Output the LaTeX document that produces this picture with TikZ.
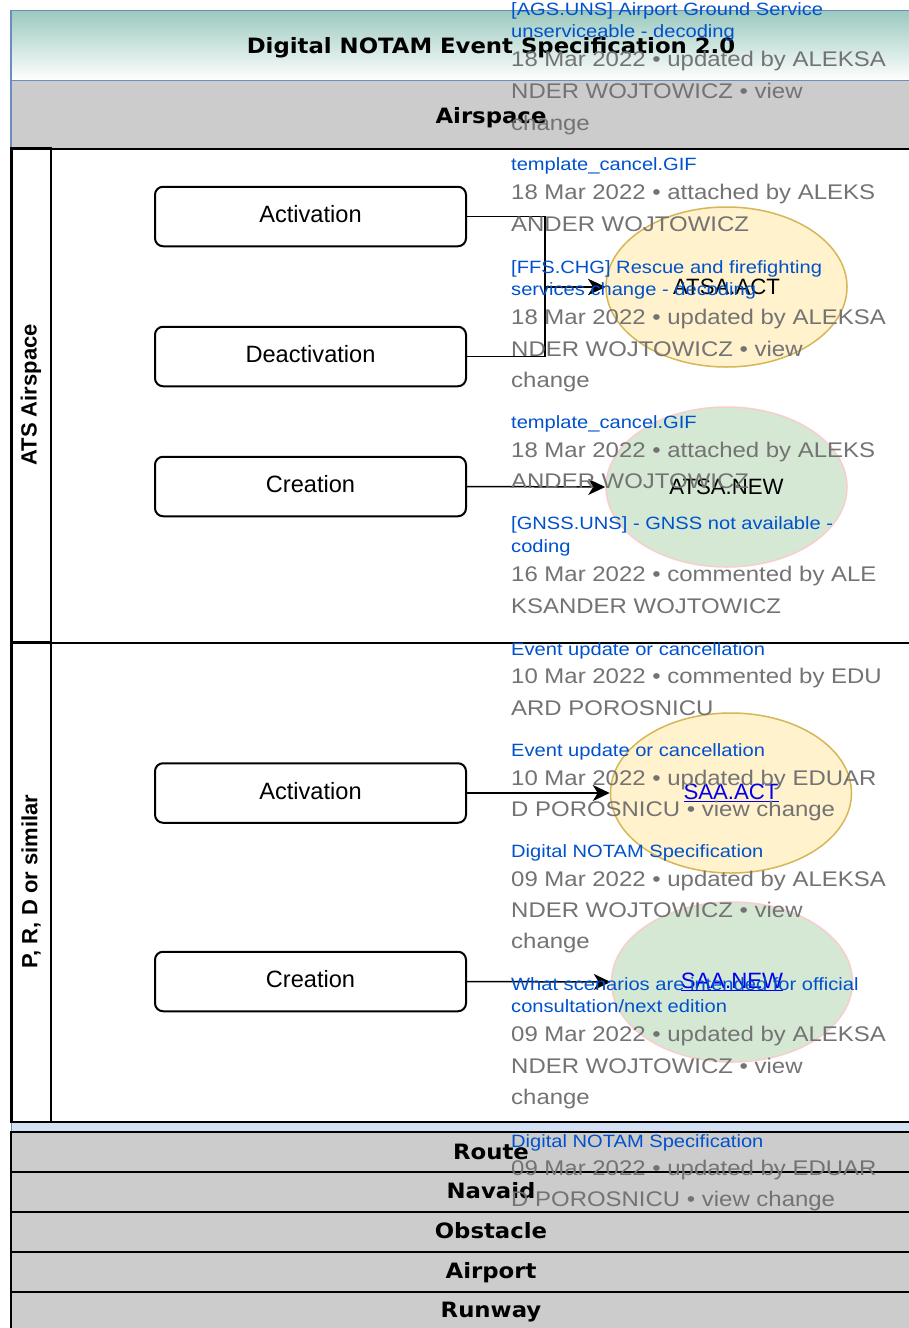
\documentclass[tikz,border=0pt]{standalone}
\usepackage{fontspec}
\usetikzlibrary{shapes.geometric,arrows.meta}
\newfontfamily\ovfont{Liberation Sans}[FakeStretch=1.13]
\newfontfamily\lbfont{Liberation Sans}
\newfontfamily\hdfont{DejaVu Sans}[FakeStretch=1.08]
\definecolor{teal1}{HTML}{9BC9BE}
\definecolor{hdblue}{HTML}{6C8EBF}
\definecolor{barg}{HTML}{CCCCCC}
\definecolor{stripb}{HTML}{D4E1F5}
\definecolor{yelf}{HTML}{FFF2CC}
\definecolor{yeld}{HTML}{D6B656}
\definecolor{grnf}{HTML}{D5E8D4}
\definecolor{redd}{HTML}{F8CECC}
\definecolor{ovblue}{HTML}{0052CC}
\definecolor{ovgray}{HTML}{737373}
\definecolor{lnk}{HTML}{0000EE}
\tikzset{
  hbar/.style={anchor=north west, minimum width=960, inner sep=0, outer sep=0},
  hdtext/.style={font=\hdfont\bfseries\fontsize{21.1}{21}\selectfont, anchor=base, inner sep=0},
  graybar/.style={hbar, fill=barg, draw=black, line width=2, minimum height=40},
  pool/.style={anchor=north west, draw=black, line width=2, minimum width=960, inner sep=0},
  lanehead/.style={draw=black, line width=2, rotate=90, minimum height=40, inner sep=0,
    font=\lbfont\bfseries\fontsize{22}{22}\selectfont},
  procbox/.style={draw=black, line width=2, rounded corners=8, minimum width=311,
    minimum height=59.5, inner sep=0},
  boxtext/.style={anchor=base, inner sep=0, font=\lbfont\fontsize{23.6}{24}\selectfont},
  evell/.style={ellipse, line width=1.5, minimum width=241, minimum height=160, inner sep=0,
    font=\lbfont\fontsize{22.2}{22}\selectfont},
  yell/.style={evell, fill=yelf, draw=yeld},
  gell/.style={evell, fill=grnf, draw=redd},
  arr/.style={draw=black, line width=1.5, -{Stealth[length=17pt,width=16pt,inset=5pt]}},
  ovb/.style={anchor=base west, inner sep=0, text=ovblue, font=\ovfont\fontsize{17.8}{18}\selectfont},
  ovg/.style={anchor=base west, inner sep=0, text=ovgray, font=\ovfont\fontsize{21.2}{22}\selectfont},
}
\begin{document}
\begin{tikzpicture}[x=1pt,y=-1pt]
\useasboundingbox (0,0) rectangle (909,1328);
\fill[white] (0,0) rectangle (909,1328);
\begin{scope}
\clip (0,0) rectangle (909,1328);
% header bars
\node[hbar, minimum height=70, top color=teal1, bottom color=white, draw=hdblue, line width=1.5] (title) at (11,10.5) {};
\node[hbar, minimum height=68, fill=barg, draw=none] (airsp) at (11,80.5) {};
\draw[hdblue, line width=1.5] (airsp.north west) -- (airsp.south west);
\node[hdtext] (titletxt) at (491,53.3) {Digital NOTAM Event Specification 2.0};
\node[hdtext] (airsptxt) at (491,123) {Airspace};
% pools
\node[pool, minimum height=493.5] (pool1) at (11,148) {};
\node[pool, minimum height=480] (pool2) at (11,641.5) {};
\node[lanehead, minimum width=493.5] (lane1) at (31,394.75) {ATS Airspace};
\node[lanehead, minimum width=480] (lane2) at (31,881.5) {P, R, D or similar};
% process boxes
\node[procbox] (a1) at (310.5,216.5) {};
\node[procbox] (d1) at (310.5,356.5) {};
\node[procbox] (c1) at (310.5,486.5) {};
\node[procbox] (a2) at (310.5,793) {};
\node[procbox] (c2) at (310.5,981.5) {};
\node[boxtext] (a1t) at ([yshift=-6.2]a1.center) {Activation};
\node[boxtext] (d1t) at ([yshift=-6.2]d1.center) {Deactivation};
\node[boxtext] (c1t) at ([yshift=-6.2]c1.center) {Creation};
\node[boxtext] (a2t) at ([yshift=-6.2]a2.center) {Activation};
\node[boxtext] (c2t) at ([yshift=-6.2]c2.center) {Creation};
% events
\node[yell] (e1) at (726.5,287) {ATSA.ACT};
\node[gell] (e2) at (726.5,487) {ATSA.NEW};
\node[yell, text=lnk] (e3) at (731,793) {\underline{SAA.ACT}};
\node[gell, text=lnk] (e4) at (732,982) {\underline{SAA.NEW}};
% connectors
\coordinate (j1) at (545,287);
\draw[arr] (a1.east) -| (j1) -- (e1.west);
\draw[arr] (d1.east) -| (j1) -- (e1.west);
\draw[arr] (c1.east) -- (e2.west);
\draw[arr] (a2.east) -- (e3.west);
\draw[arr] (c2.east) -- (e4.west);
% bottom bars
\node[hbar, minimum height=10, fill=stripb, draw=hdblue, line width=1] (strip) at (11,1121.5) {};
\draw[black, line width=2] (strip.north west) -- (strip.north east);
\node[graybar] (route) at (11,1131.5) {};
\node[graybar] (navaid) at (11,1171.5) {};
\node[graybar] (obst) at (11,1211.5) {};
\node[graybar] (airport) at (11,1251.5) {};
\node[graybar] (runway) at (11,1291.5) {};
\node[hdtext] (routet) at (491,1159) {Route};
\node[hdtext] (navaidt) at (491,1198) {Navaid};
\node[hdtext] (obstt) at (491,1238) {Obstacle};
\node[hdtext] (airportt) at (491,1278) {Airport};
\node[hdtext] (runwayt) at (491,1317) {Runway};
% overlay activity text
\node[ovb] (o1) at (511,15) {[AGS.UNS] Airport Ground Service};
\node[ovb] (o2) at (511,37.5) {unserviceable - decoding};
\node[ovg] (o3) at (511,66) {18 Mar 2022 • updated by ALEKSA};
\node[ovg] (o4) at (511,98) {NDER WOJTOWICZ • view};
\node[ovg] (o5) at (511,130) {change};
\node[ovb] (o6) at (511,170.5) {template\_cancel.GIF};
\node[ovg] (o7) at (511,199) {18 Mar 2022 • attached by ALEKS};
\node[ovg] (o8) at (511,231) {ANDER WOJTOWICZ};
\node[ovb] (o9) at (511,273) {[FFS.CHG] Rescue and firefighting};
\node[ovb] (o10) at (511,295.5) {services change - decoding};
\node[ovg] (o11) at (511,324.5) {18 Mar 2022 • updated by ALEKSA};
\node[ovg] (o12) at (511,356) {NDER WOJTOWICZ • view};
\node[ovg] (o13) at (511,387.5) {change};
\node[ovb] (o14) at (511,428.5) {template\_cancel.GIF};
\node[ovg] (o15) at (511,457) {18 Mar 2022 • attached by ALEKS};
\node[ovg] (o16) at (511,488.5) {ANDER WOJTOWICZ};
\node[ovb] (o17) at (511,529.5) {[GNSS.UNS] - GNSS not available -};
\node[ovb] (o18) at (511,552) {coding};
\node[ovg] (o19) at (511,581.5) {16 Mar 2022 • commented by ALE};
\node[ovg] (o20) at (511,613) {KSANDER WOJTOWICZ};
\node[ovb] (o21) at (511,655) {Event update or cancellation};
\node[ovg] (o22) at (511,683.5) {10 Mar 2022 • commented by EDU};
\node[ovg] (o23) at (511,715) {ARD POROSNICU};
\node[ovb] (o24) at (511,756) {Event update or cancellation};
\node[ovg] (o25) at (511,785) {10 Mar 2022 • updated by EDUAR};
\node[ovg] (o26) at (511,816.5) {D POROSNICU • view change};
\node[ovb] (o27) at (511,857) {Digital NOTAM Specification};
\node[ovg] (o28) at (511,886) {09 Mar 2022 • updated by ALEKSA};
\node[ovg] (o29) at (511,917) {NDER WOJTOWICZ • view};
\node[ovg] (o30) at (511,948.5) {change};
\node[ovb] (o31) at (511,990) {What scenarios are intended for official};
\node[ovb] (o32) at (511,1012.5) {consultation/next edition};
\node[ovg] (o33) at (511,1041.5) {09 Mar 2022 • updated by ALEKSA};
\node[ovg] (o34) at (511,1073) {NDER WOJTOWICZ • view};
\node[ovg] (o35) at (511,1104.5) {change};
\node[ovb] (o36) at (511,1147) {Digital NOTAM Specification};
\node[ovg] (o37) at (511,1175) {09 Mar 2022 • updated by EDUAR};
\node[ovg] (o38) at (511,1206.5) {D POROSNICU • view change};
\end{scope}
\end{tikzpicture}
\end{document}
